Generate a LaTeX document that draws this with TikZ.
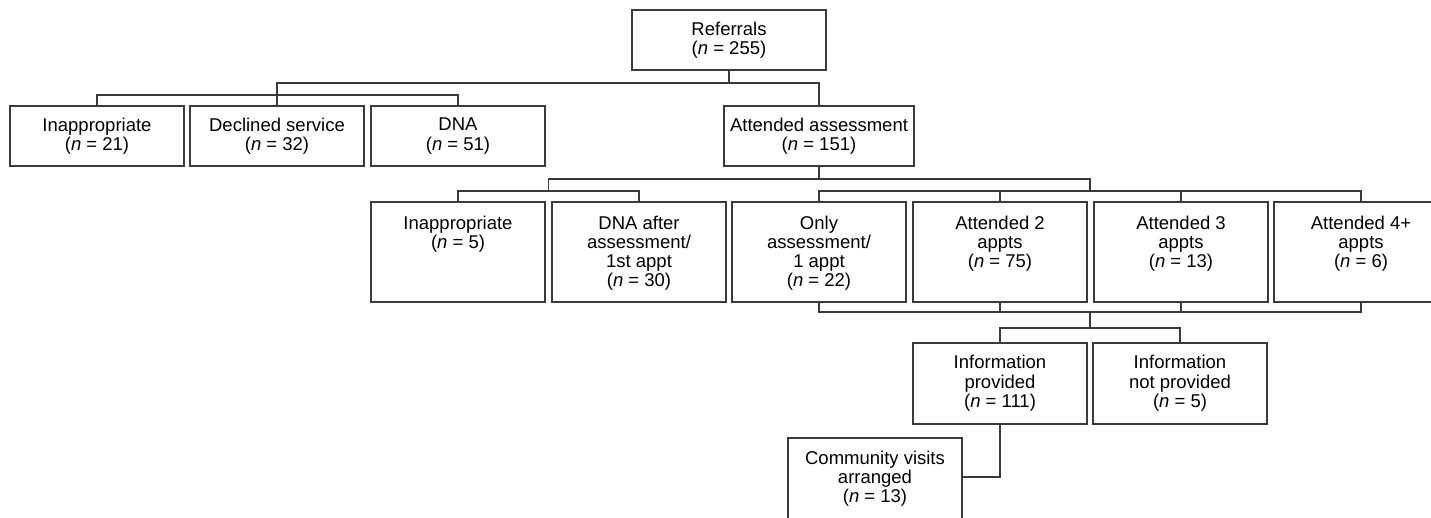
\documentclass[tikz,border=0pt]{standalone}
\usepackage{fontspec}
\setmainfont{Liberation Sans}
\usetikzlibrary{calc}
\definecolor{ln}{HTML}{3A3A3A}
\begin{document}
\begin{tikzpicture}[x=1bp,y=-1bp,
  box/.style={draw=ln, line width=1.3bp, inner sep=0pt, minimum width=174bp, minimum height=100bp, align=center,
              font=\fontsize{18.5bp}{19.5bp}\selectfont},
  txt/.style={inner sep=0pt, align=center, anchor=north, font=\fontsize{18.5bp}{19bp}\selectfont},
  conn/.style={draw=ln, line width=1.3bp}]
\useasboundingbox (0,0) rectangle (1431,518);
\clip (0,0) rectangle (1431,518);
\fill[white] (0,0) rectangle (1431,518);
% named bar levels
\coordinate (barA) at (0,83);
\coordinate (barB) at (0,95);
\coordinate (barC) at (0,179);
\coordinate (barD) at (0,191);
\coordinate (barE) at (0,312);
\coordinate (barF) at (0,328);
\coordinate (barG) at (0,477);
% level 0
\node[box, minimum width=194bp, minimum height=60bp] (ref) at (729,40) {Referrals\\(\textit{n} = 255)};
% level 1
\node[box, minimum height=60bp] (inap1) at (97,136) {Inappropriate\\(\textit{n} = 21)};
\node[box, minimum height=60bp] (dcl) at (277,136) {Declined service\\(\textit{n} = 32)};
\node[box, minimum height=60bp] (dna1) at (458,136) {DNA\\(\textit{n} = 51)};
\node[box, minimum width=190bp, minimum height=60bp] (att) at (819,136) {Attended assessment\\(\textit{n} = 151)};
% level 2
\node[box] (i2) at (458,252) {};
\node[box] (d2) at (639,252) {};
\node[box] (o2) at (819,252) {};
\node[box] (a2) at (1000,252) {};
\node[box] (a3) at (1181,252) {};
\node[box] (a4) at (1361,252) {};
\node[txt] (i2t) at ([yshift=-14.5bp]i2.north) {Inappropriate\\(\textit{n} = 5)};
\node[txt] (d2t) at ([yshift=-14.5bp]d2.north) {DNA after\\assessment/\\1st appt\\(\textit{n} = 30)};
\node[txt] (o2t) at ([yshift=-14.5bp]o2.north) {Only\\assessment/\\1 appt\\(\textit{n} = 22)};
\node[txt] (a2t) at ([yshift=-14.5bp]a2.north) {Attended 2\\appts\\(\textit{n} = 75)};
\node[txt] (a3t) at ([yshift=-14.5bp]a3.north) {Attended 3\\appts\\(\textit{n} = 13)};
\node[txt] (a4t) at ([yshift=-14.5bp]a4.north) {Attended 4+\\appts\\(\textit{n} = 6)};
% level 3
\node[box, minimum height=81bp] (ip) at (1000,383.5) {Information\\provided\\(\textit{n} = 111)};
\node[box, minimum height=81bp] (inp) at (1180,383.5) {Information\\not provided\\(\textit{n} = 5)};
% level 4
\node[box] (cv) at (875,488) {};
\node[txt] (cvt) at ([yshift=-13.5bp]cv.north) {Community visits\\arranged\\(\textit{n} = 13)};
% connectors level 0-1
\draw[conn] (ref.south) -- (ref.south |- barA);
\draw[conn] (dcl.north) -- (dcl.north |- barA) -| (att.north);
\draw[conn] (inap1.north) |- (dna1.north |- barB) -- (dna1.north);
% connectors level 1-2
\coordinate (mL) at ($(i2.north)!0.5!(d2.north)$);
\coordinate (mR) at ($(o2.north)!0.5!(a4.north)$);
\draw[conn] (att.south) -- (att.south |- barC);
\draw[conn] (mL |- barD) -- (mL |- barC) -- (mR |- barC) -- (mR |- barD);
\draw[conn] (i2.north) |- (d2.north |- barD) -- (d2.north);
\draw[conn] (o2.north) |- (a4.north |- barD) -- (a4.north);
\draw[conn] (a2.north) -- (a2.north |- barD);
\draw[conn] (a3.north) -- (a3.north |- barD);
% connectors level 2-3
\draw[conn] (o2.south) |- (a4.south |- barE) -- (a4.south);
\draw[conn] (a2.south) -- (a2.south |- barE);
\draw[conn] (a3.south) -- (a3.south |- barE);
\draw[conn] (mR |- barE) -- (mR |- barF);
\draw[conn] (ip.north) |- (inp.north |- barF) -- (inp.north);
% connector level 3-4
\draw[conn] (ip.south) |- (cv.east |- barG);
\end{tikzpicture}
\end{document}
